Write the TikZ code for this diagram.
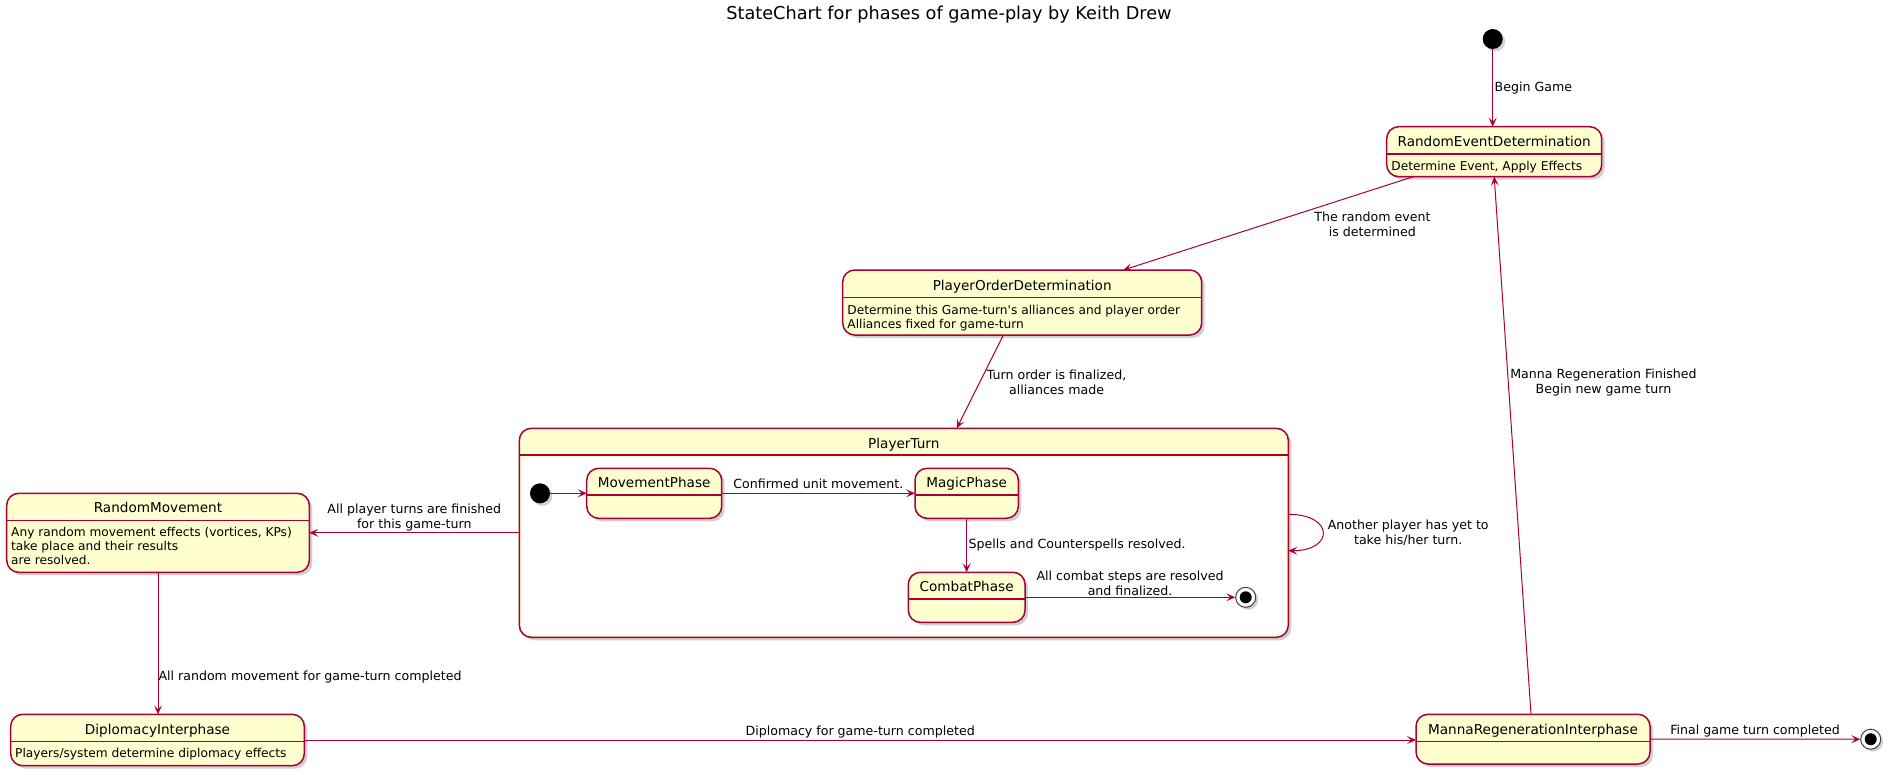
\documentclass[tikz,border=0pt]{standalone}
\usepackage{fontspec}
\setmainfont{DejaVu Sans}
\usetikzlibrary{arrows.meta,shadows,positioning}
\definecolor{umlred}{HTML}{A80036}
\definecolor{umlfill}{HTML}{FEFECE}
\tikzset{
  state/.style={draw=umlred, fill=umlfill, line width=1.5pt, rounded corners=12pt,
    anchor=north west, inner sep=0pt, outer sep=0pt,
    drop shadow={shadow xshift=3pt, shadow yshift=-3pt, opacity=.3, fill=black!60}},
  sname/.style={font=\fontsize{13.6}{16}\selectfont, anchor=base, inner sep=0pt},
  sdesc/.style={font=\fontsize{12.2}{13.7}\selectfont, align=left, anchor=north west, inner sep=0pt},
  sepline/.style={draw=umlred, line width=1.5pt},
  flow/.style={draw=umlred, line width=1pt, -{Stealth[length=9pt,width=8pt,inset=4pt]}},
  lbl/.style={font=\fontsize{12.6}{15}\selectfont, align=center, inner sep=1.5pt},
  startdot/.style={circle, fill=black, minimum size=20pt, inner sep=0pt,
    drop shadow={shadow xshift=2.5pt, shadow yshift=-2.5pt, opacity=.3, fill=black!60}},
  enddot/.style={circle, draw=black!75, fill=white, line width=1pt, minimum size=20pt, inner sep=0pt,
    drop shadow={shadow xshift=2.5pt, shadow yshift=-2.5pt, opacity=.3, fill=black!60},
    path picture={\fill[black] (path picture bounding box.center) circle (6pt);}},
  charttitle/.style={font=\fontsize{17.7}{20}\selectfont, inner sep=0pt},
}
\begin{document}
\begin{tikzpicture}[x=1pt, y=-1pt]
  \useasboundingbox (0,0) rectangle (1898,774);
  \node[charttitle] (ttl) at (949,14.5) {StateChart for phases of game-play by Keith Drew};

  % outer states
  \node[startdot] (start) at (1492.7,39) {};
  \node[state, minimum width=215pt, minimum height=50pt] (red) at (1386.7,126.7) {};
  \draw[sepline] ([yshift=-27.3]red.north west) -- ([yshift=-27.3]red.north east);
  \node[sname] at ([yshift=-20]red.north) {RandomEventDetermination};
  \node[sdesc] at ([xshift=4.5, yshift=-34.2]red.north west) {Determine Event, Apply Effects};

  \node[state, minimum width=359pt, minimum height=65pt] (pod) at (842.7,270) {};
  \draw[sepline] ([yshift=-27.7]pod.north west) -- ([yshift=-27.7]pod.north east);
  \node[sname] at ([yshift=-20]pod.north) {PlayerOrderDetermination};
  \node[sdesc] at ([xshift=4.5, yshift=-35]pod.north west) {Determine this Game-turn\textquotesingle s alliances and player order\\Alliances fixed for game-turn};

  \node[state, minimum width=769pt, minimum height=209pt] (turn) at (519.3,428.3) {};
  \fill[white, rounded corners=8pt] ([xshift=2.5, yshift=-29.5]turn.north west) rectangle ([xshift=-2.5, yshift=2.5]turn.south east);
  \draw[sepline] ([yshift=-26.7]turn.north west) -- ([yshift=-26.7]turn.north east);
  \node[sname] at ([yshift=-20]turn.north) {PlayerTurn};

  \node[state, minimum width=302.6pt, minimum height=79pt] (rmove) at (6.7,493.3) {};
  \draw[sepline] ([yshift=-27.4]rmove.north west) -- ([yshift=-27.4]rmove.north east);
  \node[sname] at ([yshift=-19.4]rmove.north) {RandomMovement};
  \node[sdesc] at ([xshift=4.3, yshift=-34.2]rmove.north west) {Any random movement effects (vortices, KPs)\\take place and their results\\are resolved.};

  \node[state, minimum width=293.6pt, minimum height=51.4pt] (diplo) at (10.7,714.3) {};
  \draw[sepline] ([yshift=-27.4]diplo.north west) -- ([yshift=-27.4]diplo.north east);
  \node[sname] at ([yshift=-19.7]diplo.north) {DiplomacyInterphase};
  \node[sdesc] at ([xshift=4.3, yshift=-34.2]diplo.north west) {Players/system determine diplomacy effects};

  \node[state, minimum width=234pt, minimum height=49.7pt] (manna) at (1416,714.3) {};
  \draw[sepline] ([yshift=-27.4]manna.north west) -- ([yshift=-27.4]manna.north east);
  \node[sname] at ([yshift=-20]manna.north) {MannaRegenerationInterphase};
  \node[enddot] (fin) at (1870.7,739.2) {};

  % inside PlayerTurn
  \node[startdot] (istart) at (540,493.3) {};
  \node[state, minimum width=135pt, minimum height=50pt] (move) at (586.7,468.3) {};
  \draw[sepline] ([yshift=-26.7]move.north west) -- ([yshift=-26.7]move.north east);
  \node[sname] at ([yshift=-19]move.north) {MovementPhase};
  \node[state, minimum width=103.3pt, minimum height=50pt] (magic) at (915,468.3) {};
  \draw[sepline] ([yshift=-26.7]magic.north west) -- ([yshift=-26.7]magic.north east);
  \node[sname] at ([yshift=-19]magic.north) {MagicPhase};
  \node[state, minimum width=116.7pt, minimum height=50pt] (combat) at (908.3,572.3) {};
  \draw[sepline] ([yshift=-26.7]combat.north west) -- ([yshift=-26.7]combat.north east);
  \node[sname] at ([yshift=-19]combat.north) {CombatPhase};
  \node[enddot] (iend) at (1245.7,597.3) {};

  \draw[flow] (istart) -- (move);
  \draw[flow] (move) -- node[lbl, above, yshift=3] {Confirmed unit movement.} (magic);
  \draw[flow] (magic) -- node[lbl, right] {Spells and Counterspells resolved.} (combat);
  \draw[flow] (combat) -- node[lbl, above] {All combat steps are resolved\\and finalized.} (iend);

  % transitions
  \draw[flow] (start) -- node[lbl, right] {Begin Game} (red.north -| start);
  \draw[flow] ([xshift=26.6]red.south west) -- node[lbl, pos=.51, xshift=107] {The random event\\is determined} ([xshift=101.1]pod.north);
  \draw[flow] ([xshift=-18.9]pod.south) -- node[lbl, pos=.51, xshift=77] {Turn order is finalized,\\alliances made} ([xshift=52.9]turn.north);
  \draw[flow] (turn.west) -- node[lbl, above] {All player turns are finished\\for this game-turn} (rmove.east);
  \draw[flow] ([yshift=18.5]turn.east) .. controls +(46,0) and +(46,0) .. node[lbl, right, xshift=3] {Another player has yet to\\take his/her turn.} ([yshift=-17.9]turn.east);
  \draw[flow] (rmove.south) -- node[lbl, pos=.735, right, inner sep=0pt] {All random movement for game-turn completed} (rmove.south |- diplo.north);
  \draw[flow] (diplo.east) -- node[lbl, above] {Diplomacy for game-turn completed} (diplo.east -| manna.west);
  \draw[flow] ([xshift=-2]manna.north) -- node[lbl, pos=.618, right] {Manna Regeneration Finished\\Begin new game turn} (red.south);
  \draw[flow] (manna.east) -- node[lbl, above] {Final game turn completed} (fin);
\end{tikzpicture}
\end{document}
